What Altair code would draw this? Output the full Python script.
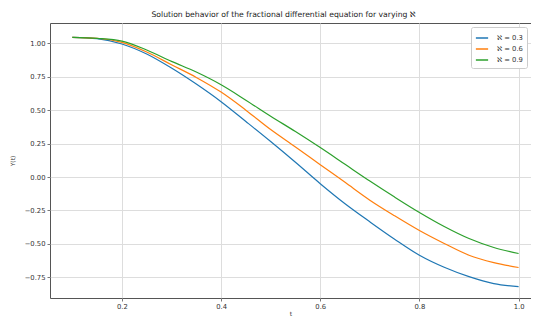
import altair as alt
import pandas as pd

t_vals = [0.10, 0.15, 0.20, 0.25, 0.30, 0.35, 0.40, 0.45, 0.50, 0.55,
          0.60, 0.65, 0.70, 0.75, 0.80, 0.85, 0.90, 0.95, 1.00]
y_03 = [1.045, 1.035, 0.995, 0.92, 0.815, 0.695, 0.563, 0.415, 0.265, 0.11,
        -0.05, -0.20, -0.335, -0.465, -0.585, -0.675, -0.745, -0.797, -0.82]
y_06 = [1.045, 1.038, 1.007, 0.935, 0.84, 0.745, 0.635, 0.50, 0.355, 0.225,
        0.092, -0.04, -0.173, -0.29, -0.40, -0.497, -0.585, -0.64, -0.677]
y_09 = [1.045, 1.037, 1.017, 0.95, 0.865, 0.785, 0.69, 0.575, 0.455, 0.34,
        0.22, 0.095, -0.03, -0.15, -0.265, -0.37, -0.46, -0.527, -0.572]
series_names = ["ℵ = 0.3", "ℵ = 0.6", "ℵ = 0.9"]
series_colors = ["#1f77b4", "#ff7f0e", "#2ca02c"]
x_ticks = [0.2, 0.4, 0.6, 0.8, 1.0]
y_ticks = [-0.75, -0.5, -0.25, 0.0, 0.25, 0.5, 0.75, 1.0]

rows = []
for name, ys in zip(series_names, [y_03, y_06, y_09]):
    for i, (t, y) in enumerate(zip(t_vals, ys)):
        rows.append({"t": t, "Y": y, "series": name, "order": i})
df = pd.DataFrame(rows)

FONT = "DejaVu Sans"

chart = alt.Chart(df).mark_line(strokeWidth=1.2, clip=True, interpolate="monotone").encode(
    x=alt.X("t:Q", title="t",
            scale=alt.Scale(domain=[0.055, 1.025], nice=False, zero=False),
            axis=alt.Axis(values=x_ticks, format=".1f", grid=True,
                          labelPadding=2, titlePadding=1)),
    y=alt.Y("Y:Q", title="Y(t)",
            scale=alt.Scale(domain=[-0.905, 1.152], nice=False, zero=False),
            axis=alt.Axis(values=y_ticks, format=".2f", grid=True,
                          labelPadding=2, titlePadding=9)),
    color=alt.Color("series:N", title=None,
                    scale=alt.Scale(domain=series_names, range=series_colors),
                    legend=alt.Legend(orient="top-right", offset=4,
                                      symbolType="stroke", symbolSize=150,
                                      symbolStrokeWidth=1.5,
                                      labelFontSize=6.8, labelFont=FONT,
                                      labelColor="#333", labelOffset=8,
                                      fillColor="white", strokeColor="#cccccc",
                                      cornerRadius=2, padding=4, rowPadding=0)),
    order="order:Q",
).properties(
    width=481,
    height=275,
    title=alt.TitleParams(
        "Solution behavior of the fractional differential equation for varying ℵ",
        font=FONT, fontSize=7.7, fontWeight="normal", color="#222",
        anchor="middle", dx=-7, offset=4),
    autosize=alt.AutoSizeParams(type="none"),
    padding={"left": 42, "top": 15, "right": 0, "bottom": 19},
).configure_view(
    stroke="#555", strokeWidth=1
).configure_axis(
    domain=False,
    gridColor="#dddddd", gridWidth=1,
    tickColor="#555", tickSize=3, tickWidth=0.8,
    labelFont=FONT, labelFontSize=6.8, labelColor="#333",
    titleFont=FONT, titleFontSize=6, titleFontWeight="normal", titleColor="#333",
)

chart.save("out.html", embed_options={"renderer": "svg", "actions": False})
